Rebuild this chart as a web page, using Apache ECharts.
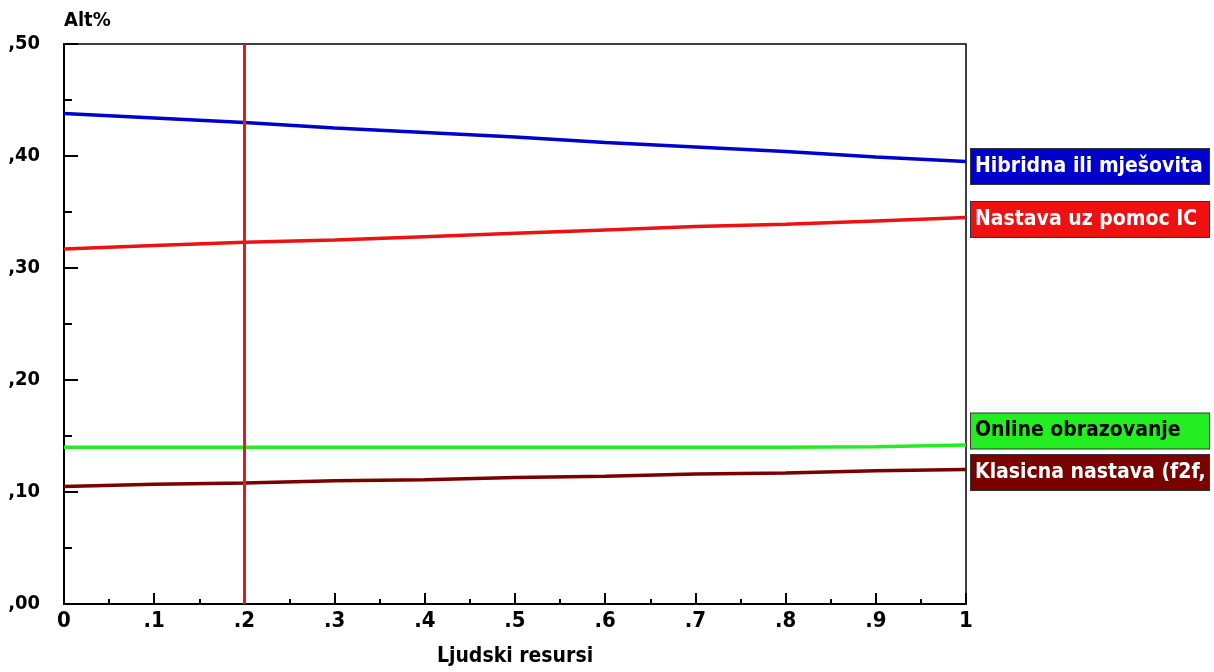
<!DOCTYPE html>
<html>
<head>
<meta charset="utf-8">
<script src="https://cdn.jsdelivr.net/npm/echarts@6/dist/echarts.min.js"></script>
<style>html,body{margin:0;padding:0;background:#fff}#c{width:1214px;height:672px}</style>
</head>
<body>
<div id="c"></div>
<script>
const xValues = [0, 0.1, 0.2, 0.3, 0.4, 0.5, 0.6, 0.7, 0.8, 0.9, 1];
const seriesNames = ['Hibridna ili mješovita', 'Nastava uz pomoc IC', 'Online obrazovanje', 'Klasicna nastava (f2f,'];
const hibridna = [0.438, 0.434, 0.430, 0.425, 0.421, 0.417, 0.412, 0.408, 0.404, 0.399, 0.395];
const nastavaIC = [0.317, 0.320, 0.323, 0.325, 0.328, 0.331, 0.334, 0.337, 0.339, 0.342, 0.345];
const online = [0.140, 0.140, 0.140, 0.140, 0.140, 0.140, 0.140, 0.140, 0.140, 0.1405, 0.142];
const klasicna = [0.105, 0.107, 0.108, 0.110, 0.111, 0.113, 0.114, 0.116, 0.117, 0.119, 0.120];
const refLineX = 0.203;
const xTickLabels = {0: '0', 1: '.1', 2: '.2', 3: '.3', 4: '.4', 5: '.5', 6: '.6', 7: '.7', 8: '.8', 9: '.9', 10: '1'};
const yTickLabels = {0: ',00', 1: ',10', 2: ',20', 3: ',30', 4: ',40', 5: ',50'};

const FONT = "'DejaVu Sans Condensed', 'DejaVu Sans', sans-serif";
const colors = ['#0000cc', '#ee1111', '#22ee22', '#7a0000'];
const labelText = ['#ffffff', '#ffffff', '#000000', '#ffffff'];
const labelOffsets = [[0, 5], [0, 2], [0, -14], [0, 3]];
const allData = [hibridna, nastavaIC, online, klasicna];

const series = allData.map((vals, i) => ({
  name: seriesNames[i],
  type: 'line',
  data: xValues.map((x, j) => [x, vals[j]]),
  showSymbol: false,
  symbol: 'none',
  lineStyle: {color: colors[i], width: 3.5},
  itemStyle: {color: colors[i]},
  z: 3,
  endLabel: {
    show: true,
    distance: 5,
    formatter: () => seriesNames[i],
    offset: labelOffsets[i],
    color: labelText[i],
    backgroundColor: colors[i],
    borderColor: '#333',
    borderWidth: 1,
    fontFamily: FONT,
    fontWeight: 'bold',
    fontSize: 21,
    width: 232,
    height: 27,
    lineHeight: 27,
    padding: [4, 2, 4, 4],
    align: 'left'
  }
}));
series[0].markLine = {
  silent: true,
  symbol: ['none', 'none'],
  label: {show: false},
  lineStyle: {color: '#e81818', width: 3, type: 'solid'},
  data: [{xAxis: refLineX}],
  z: 5
};

const chart = echarts.init(document.getElementById('c'));
chart.setOption({
  animation: false,
  backgroundColor: '#ffffff',
  grid: {left: 64, right: 248, top: 44, bottom: 62, show: true, borderColor: '#000', borderWidth: 1.5, backgroundColor: 'transparent'},
  xAxis: {
    type: 'value', min: 0, max: 1, interval: 0.1,
    name: 'Ljudski resursi', nameLocation: 'middle', nameGap: 42,
    nameTextStyle: {fontFamily: FONT, fontWeight: 'bold', fontSize: 21, color: '#000'},
    axisLine: {lineStyle: {color: '#000', width: 2}},
    axisTick: {inside: true, length: 11, lineStyle: {color: '#000', width: 2}},
    minorTick: {show: true, splitNumber: 2, length: 5, lineStyle: {color: '#000', width: 2}},
    splitLine: {show: false},
    axisLabel: {
      fontFamily: FONT, fontWeight: 'bold', fontSize: 22, color: '#000', margin: 6,
      formatter: v => xTickLabels[Math.round(v * 10)]
    }
  },
  yAxis: {
    type: 'value', min: 0, max: 0.5, interval: 0.1,
    name: 'Alt%', nameLocation: 'end', nameGap: 13,
    nameTextStyle: {fontFamily: FONT, fontWeight: 'bold', fontSize: 20, color: '#000', align: 'left', verticalAlign: 'bottom'},
    axisLine: {show: true, lineStyle: {color: '#000', width: 2}},
    axisTick: {show: true, inside: true, length: 14, lineStyle: {color: '#000', width: 2}},
    minorTick: {show: true, splitNumber: 2, length: 8, lineStyle: {color: '#000', width: 2}},
    splitLine: {show: false},
    axisLabel: {
      fontFamily: FONT, fontWeight: 'bold', fontSize: 20, color: '#000', margin: 24,
      formatter: v => yTickLabels[Math.round(v * 10)]
    }
  },
  series: series
});
</script>
</body>
</html>
